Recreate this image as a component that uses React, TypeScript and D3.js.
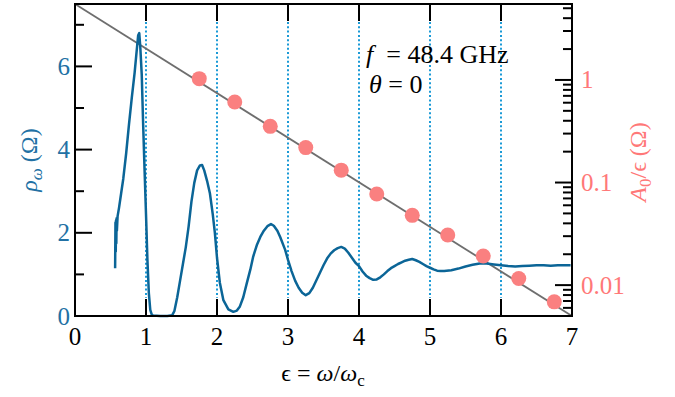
import React from "react";
import * as d3 from "d3";

// ---- data ----
const rhoEps = [0.565,0.57,0.574,0.578,0.582,0.586,0.59,0.6,0.62,0.65,0.68,0.72,0.76,0.8,0.84,0.87,0.89,0.905,0.92,0.94,0.96,0.98,1.0,1.02,1.04,1.06,1.08,1.1,1.2,1.3,1.37,1.4,1.44,1.48,1.52,1.56,1.6,1.64,1.68,1.72,1.76,1.79,1.82,1.86,1.9,1.94,1.97,2.0,2.04,2.09,2.16,2.23,2.28,2.32,2.37,2.42,2.47,2.51,2.56,2.61,2.66,2.71,2.76,2.8,2.85,2.89,2.96,3.0,3.05,3.1,3.15,3.2,3.25,3.3,3.35,3.4,3.45,3.5,3.55,3.6,3.65,3.7,3.75,3.8,3.85,3.9,3.95,4.0,4.05,4.1,4.15,4.2,4.25,4.3,4.35,4.4,4.45,4.5,4.55,4.6,4.65,4.7,4.75,4.8,4.85,4.9,4.95,5.0,5.05,5.1,5.15,5.2,5.3,5.4,5.5,5.6,5.7,5.8,5.9,6.0,6.1,6.2,6.3,6.4,6.5,6.6,6.7,6.8,6.9,6.98];
const rhoVal = [1.15,2.25,1.55,2.3,1.75,2.35,2.05,2.4,2.6,2.95,3.3,3.9,4.6,5.25,5.85,6.4,6.75,6.8,6.45,5.8,4.6,3.5,2.45,1.35,0.55,0.15,0.04,0.01,0.0,0.0,0.02,0.12,0.45,0.85,1.25,1.65,2.15,2.75,3.2,3.5,3.62,3.63,3.5,3.25,2.95,2.45,2.0,1.4,0.8,0.38,0.16,0.1,0.13,0.22,0.45,0.79,1.12,1.43,1.7,1.9,2.05,2.16,2.21,2.17,2.05,1.9,1.59,1.35,1.08,0.85,0.68,0.56,0.5,0.55,0.68,0.86,1.04,1.22,1.38,1.5,1.58,1.63,1.66,1.62,1.52,1.4,1.28,1.2,1.07,0.97,0.91,0.87,0.88,0.93,1.0,1.08,1.15,1.2,1.25,1.29,1.33,1.35,1.37,1.34,1.3,1.25,1.2,1.16,1.12,1.09,1.08,1.08,1.1,1.14,1.19,1.23,1.26,1.26,1.24,1.22,1.2,1.19,1.2,1.21,1.22,1.22,1.21,1.22,1.22,1.22];

const dotEps = [1.75,2.25,2.75,3.25,3.75,4.25,4.75,5.25,5.75,6.25,6.75];
const dotA = [1.03,0.61,0.353,0.219,0.132,0.0773,0.0479,0.0308,0.0192,0.0116,0.00687];

const fitEps = [0, 7];
const fitA = [5.5, 0.005];

const xTicks = [0,1,2,3,4,5,6,7];
const gridEps = [1,2,3,4,5,6];
const leftTicks = [0,1,2,3,4,5,6,7];
const leftLabels = [0,2,4,6];
const rightLabels = [
  { v: 1, t: "1" },
  { v: 0.1, t: "0.1" },
  { v: 0.01, t: "0.01" },
];

const W = 675, H = 397;
const L = 75, R = 572, T = 4, B = 316;
const SERIF = "Liberation Serif, Times New Roman, serif";
const BLUE = "#0b6597";
const BLUE_TXT = "#2271a4";
const GRID = "#1b9ad6";
const PINK = "#fa8080";
const PINK_TXT = "#ff7878";
const MAJ = 17, MIN = 9;
const FS = 25;

export default function App() {
  const x = d3.scaleLinear().domain([0, 7]).range([L, R]);
  const yL = d3.scaleLinear().domain([0, 7.5]).range([B, T]);
  const yR = d3.scaleLog().domain([0.005, 5.5]).range([B, T]);

  const rhoLine = d3.line<number>().x((d, i) => x(rhoEps[i])).y((d) => yL(d));
  const fitLine = d3.line<number>().x((d, i) => x(fitEps[i])).y((d) => yR(d));

  const logTicks = yR.ticks(20);
  const isPow10 = (v: number) => Math.abs(Math.log10(v) - Math.round(Math.log10(v))) < 1e-6;
  const ts = { fontFamily: SERIF };

  return (
    <svg width={W} height={H} style={{ position: "absolute", left: 0, top: 0, background: "#fff", fontFamily: SERIF }}>
      <rect x={0} y={0} width={W} height={H} fill="#fff" />
      {gridEps.map((e) => (
        <line key={"g" + e} x1={x(e)} x2={x(e)} y1={T + MAJ + 1} y2={B - MAJ - 1} stroke={GRID} strokeWidth={2} strokeDasharray="2 2.3" />
      ))}
      <path d={fitLine(fitA) || ""} fill="none" stroke="#6e6e6e" strokeWidth={1.8} />
      <path d={rhoLine(rhoVal) || ""} fill="none" stroke={BLUE} strokeWidth={2.5} strokeLinejoin="round" />
      {dotEps.map((e, i) => (
        <circle key={"d" + i} cx={x(e)} cy={yR(dotA[i])} r={7.5} fill={PINK} />
      ))}
      <rect x={L} y={T} width={R - L} height={B - T} fill="none" stroke="#000" strokeWidth={2} />
      {xTicks.map((t) => (
        <g key={"x" + t}>
          <line x1={x(t)} x2={x(t)} y1={B} y2={B - MAJ} stroke="#000" strokeWidth={2} />
          <line x1={x(t)} x2={x(t)} y1={T} y2={T + MAJ} stroke="#000" strokeWidth={2} />
          <text style={ts} x={x(t)} y={345} textAnchor="middle" fontSize={FS} fill="#000">{t}</text>
        </g>
      ))}
      {leftTicks.map((t) => (
        <line key={"l" + t} x1={L} x2={L + (t % 2 === 0 ? MAJ : MIN)} y1={yL(t)} y2={yL(t)} stroke="#000" strokeWidth={2} />
      ))}
      {leftLabels.map((t) => (
        <text style={ts} key={"ll" + t} x={70} y={yL(t)} dy="0.34em" textAnchor="end" fontSize={FS} fill={BLUE_TXT}>{t}</text>
      ))}
      {logTicks.map((v, i) => (
        <line key={"r" + i} x1={R} x2={R - (isPow10(v) ? MAJ : MIN)} y1={yR(v)} y2={yR(v)} stroke="#000" strokeWidth={2} />
      ))}
      {rightLabels.map((d) => (
        <text style={ts} key={"rl" + d.t} x={581} y={yR(d.v)} dy="0.34em" textAnchor="start" fontSize={FS} fill={PINK_TXT}>{d.t}</text>
      ))}
      <text style={ts} x={323} y={381} textAnchor="middle" fontSize={24} fill="#000">
        <tspan>ϵ = </tspan>
        <tspan fontStyle="italic">ω</tspan>
        <tspan>/</tspan>
        <tspan fontStyle="italic">ω</tspan>
        <tspan dy={5} fontSize={17}>c</tspan>
      </text>
      <text style={ts} transform="translate(37,160) rotate(-90)" textAnchor="middle" fontSize={24} fill={BLUE_TXT}>
        <tspan fontStyle="italic">ρ</tspan>
        <tspan fontStyle="italic" dy={5} fontSize={17}>ω</tspan>
        <tspan dy={-5}> (Ω)</tspan>
      </text>
      <text style={ts} transform="translate(646,162) rotate(-90)" textAnchor="middle" fontSize={24} fill={PINK_TXT}>
        <tspan fontStyle="italic">A</tspan>
        <tspan dy={5} fontSize={17}>0</tspan>
        <tspan dy={-5}>/ϵ (Ω)</tspan>
      </text>
      <text style={ts} x={366} y={63} fontSize={26} fill="#000">
        <tspan fontStyle="italic">f</tspan>
        <tspan>{"\u00a0 = 48.4 GHz"}</tspan>
      </text>
      <text style={ts} x={369} y={93} fontSize={26} fill="#000">
        <tspan fontStyle="italic">θ</tspan>
        <tspan>{" = 0"}</tspan>
      </text>
    </svg>
  );
}
